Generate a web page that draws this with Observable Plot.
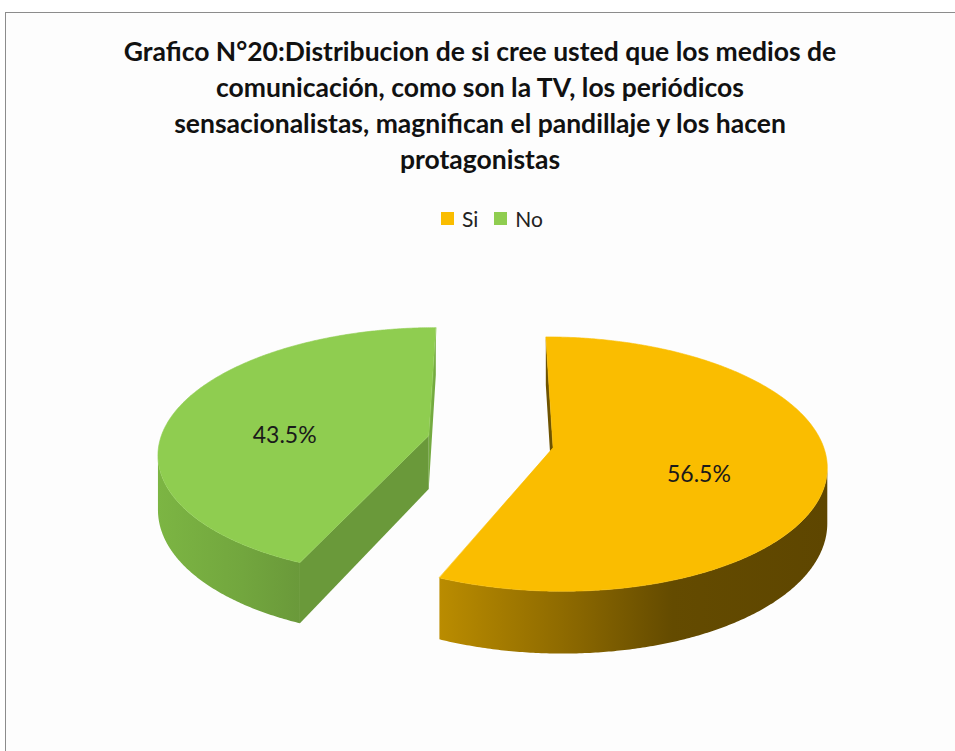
<!DOCTYPE html>
<html>
<head>
<meta charset="utf-8">
<script src="https://cdn.jsdelivr.net/npm/d3@7"></script>
<script src="https://cdn.jsdelivr.net/npm/@observablehq/plot@0.6"></script>
<style>
  html, body { margin: 0; padding: 0; background: #ffffff; }
  #wrap { position: relative; width: 955px; height: 751px; overflow: hidden; font-family: Lato, "Open Sans", sans-serif; }
  #frame { position: absolute; left: 5px; top: 12px; width: 1000px; height: 800px;
           border-left: 1px solid #8c8c8c; border-top: 1px solid #8c8c8c; background: #fdfdfd; }
  #title { position: absolute; left: 0; top: 33px; width: 960px; text-align: center;
           font-weight: 700; font-size: 26.5px; line-height: 36px; color: #111; }
  #legend { position: absolute; left: 441px; top: 206px; display: flex; align-items: center;
            font-size: 21px; color: #222; }
  #legend .sw { width: 13px; height: 13px; display: inline-block; margin-right: 8px; }
  #legend .it { display: flex; align-items: center; margin-right: 16px; }
  #chart { position: absolute; left: 0; top: 240px; }
</style>
</head>
<body>
<div id="wrap">
  <div id="frame"></div>
  <div id="title"></div>
  <div id="legend"></div>
  <div id="chart"></div>
</div>
<script>
// ---- data ----
const titleLines = [
  "Grafico N°20:Distribucion de si cree usted que los medios de",
  "comunicación, como son la TV, los periódicos",
  "sensacionalistas, magnifican el pandillaje y los hacen",
  "protagonistas"
];
const categories = ["Si", "No"];
const values = [56.5, 43.5];

// ---- styles ----
const topColor = {Si: "#FABD00", No: "#8FCD50"};
const wallFill = {Si: "url(#wallSi)", No: "url(#wallNo)"};
const face0Color = {Si: "#6E5300", No: "#6A993A"};
const face1Color = {Si: "#6E5300", No: "#74AA40"};

// ---- title & legend ----
document.getElementById("title").innerHTML = titleLines.join("<br>");
document.getElementById("legend").innerHTML = categories.map(c =>
  `<span class="it"><span class="sw" style="background:${topColor[c]}"></span>${c}</span>`).join("");

// ---- 3D pie geometry (derived from values) ----
const K = 0.13;     // perspective strength
const A = 0.459;    // vertical squash of the pie plane
const D = 0.20;     // slab thickness
const E = 0.236;    // explosion distance
const total = d3.sum(values);
let acc = 0;
const slices = categories.map((c, i) => {
  const a0 = acc / total * 2 * Math.PI;
  acc += values[i];
  const a1 = acc / total * 2 * Math.PI;
  const mid = (a0 + a1) / 2;
  return {c, i, value: values[i], a0, a1, mid, ou: E * Math.sin(mid), ov: -E * Math.cos(mid)};
});
function proj(u, v, z) { const s = 1 / (1 - K * v); return {x: u * s, y: (A * v + D * z) * s}; }
function rim(s, t, z) { return proj(s.ou + Math.sin(t), s.ov - Math.cos(t), z); }
function hub(s, z) { return proj(s.ou, s.ov, z); }
function arc(s, t0, t1, z) {
  const n = Math.max(2, Math.ceil(Math.abs(t1 - t0) / (Math.PI / 360)));
  return d3.range(n + 1).map(j => rim(s, t0 + (t1 - t0) * j / n, z));
}
function wallVisible(s, t) { return -s.ou * Math.sin(t) - (1 / K - s.ov) * Math.cos(t) - 1 > 0; }

const polys = [];
for (const s of slices) {
  // outer wall (visible part)
  const n = 720;
  let ts = null, te = null;
  for (let j = 0; j <= n; j++) {
    const t = s.a0 + (s.a1 - s.a0) * j / n;
    if (wallVisible(s, t)) { if (ts === null) ts = t; te = t; }
  }
  if (ts !== null) {
    polys.push({pts: [...arc(s, ts, te, 0), ...arc(s, te, ts, 1)], fill: wallFill[s.c]});
  }
  // radial cut faces
  const v0 = s.ou * Math.cos(s.a0) - (1 / K - s.ov) * Math.sin(s.a0);
  if (v0 > 0) polys.push({pts: [hub(s, 0), rim(s, s.a0, 0), rim(s, s.a0, 1), hub(s, 1)], fill: face0Color[s.c]});
  const v1 = -s.ou * Math.cos(s.a1) + (1 / K - s.ov) * Math.sin(s.a1);
  if (v1 > 0) polys.push({pts: [hub(s, 0), rim(s, s.a1, 0), rim(s, s.a1, 1), hub(s, 1)], fill: face1Color[s.c]});
  // top face
  polys.push({pts: [hub(s, 0), ...arc(s, s.a0, s.a1, 0)], fill: topColor[s.c], top: true});
}
const labels = slices.map(s => {
  const r = 0.55;
  const p = proj(s.ou + r * Math.sin(s.mid), s.ov - r * Math.cos(s.mid), 0);
  return {x: p.x, y: p.y, text: s.value.toFixed(1) + "%"};
});

const W = 955, H = 511, PX = 269, CX = 490, CY = 201;
const chart = Plot.plot({
  width: W, height: H,
  margin: 0,
  style: {background: "transparent", overflow: "visible"},
  x: {domain: [-CX / PX, (W - CX) / PX], range: [0, W], axis: null},
  y: {domain: [-CY / PX, (H - CY) / PX], range: [0, H], axis: null},
  marks: [
    ...polys.map(p => Plot.line(p.pts, {x: "x", y: "y", curve: "linear-closed",
      fill: p.fill, stroke: p.top ? p.fill : "none", strokeWidth: p.top ? 0.6 : 0})),
    Plot.text(labels, {x: "x", y: "y", text: "text", fontSize: 23, dx: -3, dy: 13,
      fill: "#1a1a1a", fontFamily: "Lato, sans-serif"})
  ]
});

// gradients for the outer walls
const ns = "http://www.w3.org/2000/svg";
const defs = document.createElementNS(ns, "defs");
function grad(id, stops) {
  const g = document.createElementNS(ns, "linearGradient");
  g.setAttribute("id", id); g.setAttribute("x1", "0"); g.setAttribute("x2", "1");
  g.setAttribute("y1", "0"); g.setAttribute("y2", "0");
  for (const [o, c] of stops) {
    const st = document.createElementNS(ns, "stop");
    st.setAttribute("offset", o); st.setAttribute("stop-color", c);
    g.appendChild(st);
  }
  defs.appendChild(g);
}
grad("wallSi", [[0, "#BA8C00"], [0.35, "#8A6700"], [0.6, "#644B00"], [1, "#5E4600"]]);
grad("wallNo", [[0, "#7CB543"], [0.6, "#72A63E"], [1, "#6A993A"]]);
chart.insertBefore(defs, chart.firstChild);
document.getElementById("chart").appendChild(chart);
</script>
</body>
</html>
